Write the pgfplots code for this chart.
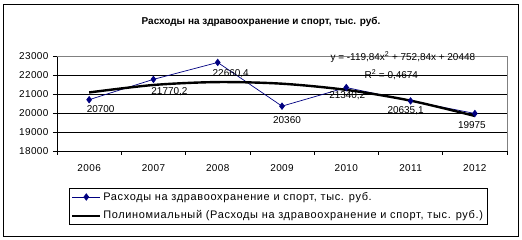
\documentclass[border=0pt]{standalone}
\usepackage{pgfplots}
\pgfplotsset{compat=1.18}
\usepackage{pgfplotstable}
\usepackage{fontspec}
\setmainfont{Liberation Sans}
\definecolor{navy}{RGB}{0,0,128}
\pgfplotstableread{
x y lab dx dy
0 20700 20700 11.5 -9
1 21770.2 21770,2 16 -12
2 22660.4 22660,4 13 -11
3 20360 20360 5 -14
4 21340.2 21340,2 1 -8
5 20635.1 20635,1 -5 -10
6 19975 19975 -3 -12
}\datatab
\pgfplotstableread{
x y
0 21081.0
1 21474.32
2 21627.96
3 21541.92
4 21216.2
5 20650.6
6 19845.72
}\trendtab
\begin{document}
\begin{tikzpicture}
\path[use as bounding box] (0,0) rectangle (522bp,240bp);
\draw[line width=0.8bp] (3bp,4bp) rectangle (518bp,236bp);
\node[font=\fontsize{10}{12}\selectfont\bfseries] at (261bp,218bp) {Расходы на здравоохранение и спорт, тыс. руб.};
\begin{axis}[
  at={(57bp,89bp)}, anchor=south west,
  scale only axis, width=450bp, height=95bp,
  xmin=-0.5, xmax=6.5, ymin=18000, ymax=23000,
  xtick={0,...,6},
  xticklabels={2006,2007,2008,2009,2010,2011,2012},
  minor xtick={-0.5,0.5,...,6.5},
  ytick={18000,19000,...,23000},
  scaled y ticks=false,
  axis x line*=bottom, axis y line*=left,
  axis line style={black, line width=0.6bp, -},
  tick align=outside,
  major tick length=4bp, minor tick length=4bp,
  x tick style={draw=none},
  minor x tick style={draw=black, line width=0.6bp},
  y tick style={black, line width=0.6bp},
  ymajorgrids, grid style={black, line width=0.6bp},
  tick label style={font=\fontsize{10}{12}\selectfont\addfontfeature{LetterSpace=4}},
  /pgf/number format/assume math mode=true,
  yticklabel style={/pgf/number format/1000 sep={}, xshift=-1bp},
  xticklabel style={yshift=-6bp},
  legend style={at={(0.0267,-0.389)}, anchor=north west, draw=black, line width=0.6bp,
    font=\fontsize{11}{13}\selectfont\addfontfeature{LetterSpace=6}, cells={anchor=west}, inner sep=2bp,
    row sep=5bp},
  legend cell align=left,
  clip=false,
]
\addplot[navy, line width=0.7bp, mark=diamond*, mark size=3.2bp,
  mark options={fill=navy, draw=navy},
  point meta=explicit symbolic,
  visualization depends on={\thisrow{dx} \as \dx},
  visualization depends on={\thisrow{dy} \as \dy},
  nodes near coords,
  nodes near coords style={anchor=center, font=\fontsize{10}{12}\selectfont, text=black, xshift=\dx*1bp, yshift=\dy*1bp, inner sep=0pt},
  legend image code/.code={\draw[navy, line width=0.7bp] (0bp,0bp) -- (28bp,0bp); \fill[navy] (14bp,0bp) +(0,3.2bp) -- +(2.4bp,0) -- +(0,-3.2bp) -- +(-2.4bp,0) -- cycle;}
] table[x=x, y=y, meta=lab] {\datatab};
\addlegendentry{Расходы на здравоохранение и спорт, тыс. руб.}
\addplot[black, line width=2.4bp, smooth, no marks,
  legend image code/.code={\draw[black, line width=2bp] (0bp,0bp) -- (28bp,0bp);}] table[x=x,y=y] {\trendtab};
\addlegendentry{Полиномиальный (Расходы на здравоохранение и спорт, тыс. руб.)}
\draw[gray, line width=0.6bp] (rel axis cs:0,1) -- (rel axis cs:1,1) -- (rel axis cs:1,0);
\node[font=\fontsize{10}{12}\selectfont] at (axis cs:4.88,22947) {y = -119,84x\textsuperscript{2} + 752,84x + 20448};
\node[font=\fontsize{10}{12}\selectfont] at (axis cs:4.70,22030) {R\textsuperscript{2} = 0,4674};
\end{axis}
\end{tikzpicture}
\end{document}
